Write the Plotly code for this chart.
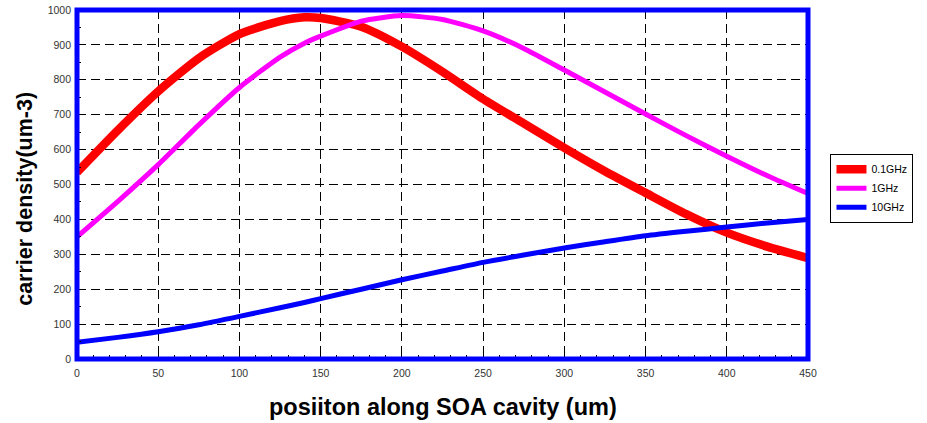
import plotly.graph_objects as go

# position along the cavity (um)
position = [0, 25, 50, 75, 100, 125, 140, 150, 175, 200, 225, 250, 275, 300,
            325, 350, 375, 400, 425, 450]

# carrier density for each modulation frequency
density_01ghz = [535, 655, 767, 862, 931, 968, 979, 977, 952, 895, 823, 745,
                 675, 605, 538, 476, 415, 362, 322, 289]
density_1ghz = [350, 451, 557, 671, 778, 865, 905, 925, 968, 984, 973, 940,
                890, 828, 765, 702, 640, 581, 525, 474]
density_10ghz = [48, 62, 78, 98, 122, 147, 162, 173, 200, 227, 252, 277,
                 298, 318, 336, 353, 366, 378, 390, 400]

series_names = ["0.1GHz", "1GHz", "10GHz"]
x_ticks = [0, 50, 100, 150, 200, 250, 300, 350, 400, 450]
y_ticks = [0, 100, 200, 300, 400, 500, 600, 700, 800, 900, 1000]

W, H = 927, 423
L, R, T, B = 76.5, 118.5, 10, 63.5

fig = go.Figure()
for name, ys, color, width in [
    (series_names[0], density_01ghz, "#ff0000", 8.5),
    (series_names[1], density_1ghz, "#ff00ff", 5),
    (series_names[2], density_10ghz, "#0000ff", 5),
]:
    fig.add_trace(go.Scatter(
        x=position, y=ys, name=name, mode="lines",
        line=dict(color=color, width=width, shape="spline", smoothing=0.6),
        cliponaxis=True,
    ))

tick_font = dict(family="Liberation Sans, Arial, sans-serif", size=10.5, color="#333333")
axis_common = dict(
    showgrid=True, gridcolor="#000000", gridwidth=1, griddash="9px,5px",
    zeroline=False, showline=False, automargin=False,
    ticks="inside", ticklen=5, tickcolor="#000000", tickwidth=1,
    tickfont=tick_font,
)

fig.update_xaxes(
    range=[0, 450], tickvals=x_ticks, ticktext=[str(v) for v in x_ticks],
    ticklabelstandoff=6,
    minor=dict(dtick=10, ticks="inside", ticklen=4, tickcolor="#000000", showgrid=False),
    **axis_common,
)
fig.update_yaxes(
    range=[0, 1000], tickvals=y_ticks, ticktext=[str(v) for v in y_ticks],
    ticklabelstandoff=5,
    minor=dict(dtick=50, ticks="inside", ticklen=4, tickcolor="#000000", showgrid=False),
    **axis_common,
)

# heavy blue frame round the plotting area
fig.add_shape(type="rect", xref="paper", yref="paper", x0=0, y0=0, x1=1, y1=1,
              line=dict(color="#0000ff", width=5), layer="above")

pw = W - L - R
ph = H - T - B
fig.add_annotation(
    text="<b>posiiton along SOA cavity (um)</b>", xref="paper", yref="paper",
    x=0.5, y=-(408 - (H - B)) / ph, xanchor="center", yanchor="middle",
    showarrow=False,
    font=dict(family="Liberation Sans, Arial, sans-serif", size=23.5, color="#000000"),
)
fig.add_annotation(
    text="<b>carrier density(um-3)</b>", xref="paper", yref="paper",
    x=-(L - 25) / pw, y=(H - B - 199.5) / ph, xanchor="center", yanchor="middle",
    textangle=-90, showarrow=False,
    font=dict(family="Liberation Sans, Arial, sans-serif", size=21.5, color="#000000"),
)

fig.update_layout(
    width=W, height=H,
    margin=dict(l=L, r=R, t=T, b=B, autoexpand=False),
    paper_bgcolor="#ffffff", plot_bgcolor="#ffffff",
    showlegend=True,
    legend=dict(
        x=(831 - L) / pw, y=(H - B - 154) / ph, xanchor="left", yanchor="top",
        bordercolor="#000000", borderwidth=1, bgcolor="#ffffff",
        font=dict(family="Liberation Sans, Arial, sans-serif", size=10.5, color="#000000"),
        tracegroupgap=0, itemwidth=30,
    ),
)

fig.write_html("out.html")
